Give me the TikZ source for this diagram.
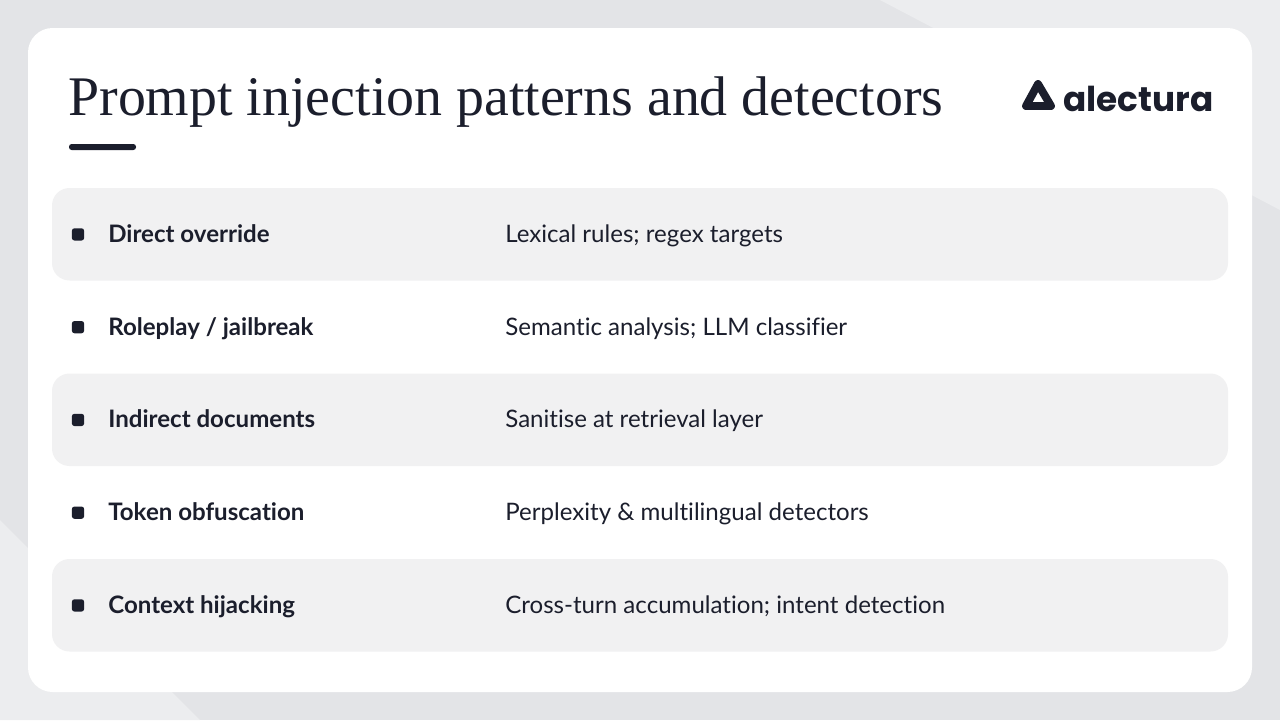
\documentclass[tikz,border=0pt]{standalone}
\usepackage{fontspec}
\setmainfont{Liberation Serif}
\setsansfont{Lato}[Ligatures = NoCommon]
\newfontfamily\logofont{Poppins}
\usetikzlibrary{positioning,calc}
\definecolor{inkdark}{HTML}{1B1E2C}
\definecolor{rowgray}{HTML}{F1F1F2}
\definecolor{pagegray}{HTML}{E3E4E7}
\definecolor{shapegray}{HTML}{ECEDEF}

\begin{document}
\begin{tikzpicture}[
		x = 0.02cm, y = -0.02cm, % pixel grid
		every node/.style = {inner sep = 0pt, text = inkdark},
		row/.style = {fill = rowgray, rounded corners = 10pt},
		bullet/.style = {fill = inkdark, rounded corners = 1.5pt, minimum size = 7pt},
		pattern/.style = {anchor = base west, font = \sffamily\bfseries\fontsize{13.7}{15}\selectfont},
		detector/.style = {anchor = base west, font = \sffamily\fontsize{13.7}{15}\selectfont}
	]

	% Background
	\fill[pagegray] (0,0) rectangle (1280,720);
	\useasboundingbox (0,0) rectangle (1280,720);
	\fill[shapegray] (880,0) -- (1280,0) -- (1280,210) -- cycle;
	\fill[shapegray] (0,520) -- (200,720) -- (0,720) -- cycle;
	\fill[white, rounded corners = 14pt] (28,28) rectangle (1252,692);

	% Title
	\node[anchor = base west, font = \fontsize{31.8}{34}\selectfont] (title) at (68,115) {Prompt injection patterns and detectors};
	\fill[inkdark, rounded corners = 1.5pt] (69,144) rectangle (136,150);

	% Logo
	\node[anchor = base west, font = \logofont\bfseries\fontsize{19.5}{22}\selectfont] (logo) at (1063,111) {alectura};
	\draw[inkdark, line width = 4.5pt, line join = round] (1038,84) -- (1051,106) -- (1026,106) -- cycle;

	% Rows
	\foreach \i/\pat/\det/\shade in {
			1/Direct override/Lexical rules; regex targets/1,
			2/{Roleplay / jailbreak}/Semantic analysis; LLM classifier/0,
			3/Indirect documents/Sanitise at retrieval layer/1,
			4/Token obfuscation/Perplexity \& multilingual detectors/0,
			5/Context hijacking/Cross-turn accumulation; intent detection/1} {
		\pgfmathsetmacro{\rowtop}{188 + (\i-1)*92.75}
		\pgfmathsetmacro{\rowmid}{\rowtop + 46.4}
		\ifnum\shade=1
			\fill[row] (52,\rowtop) rectangle (1228,\rowtop+92.5);
		\fi
		\node[bullet] (b\i) at (78,\rowmid) {};
		\node[pattern] (p\i) at (108,\rowmid+8) {\pat};
		\node[detector] (d\i) at (505,\rowmid+8) {\det};
	}
\end{tikzpicture}
\end{document}
